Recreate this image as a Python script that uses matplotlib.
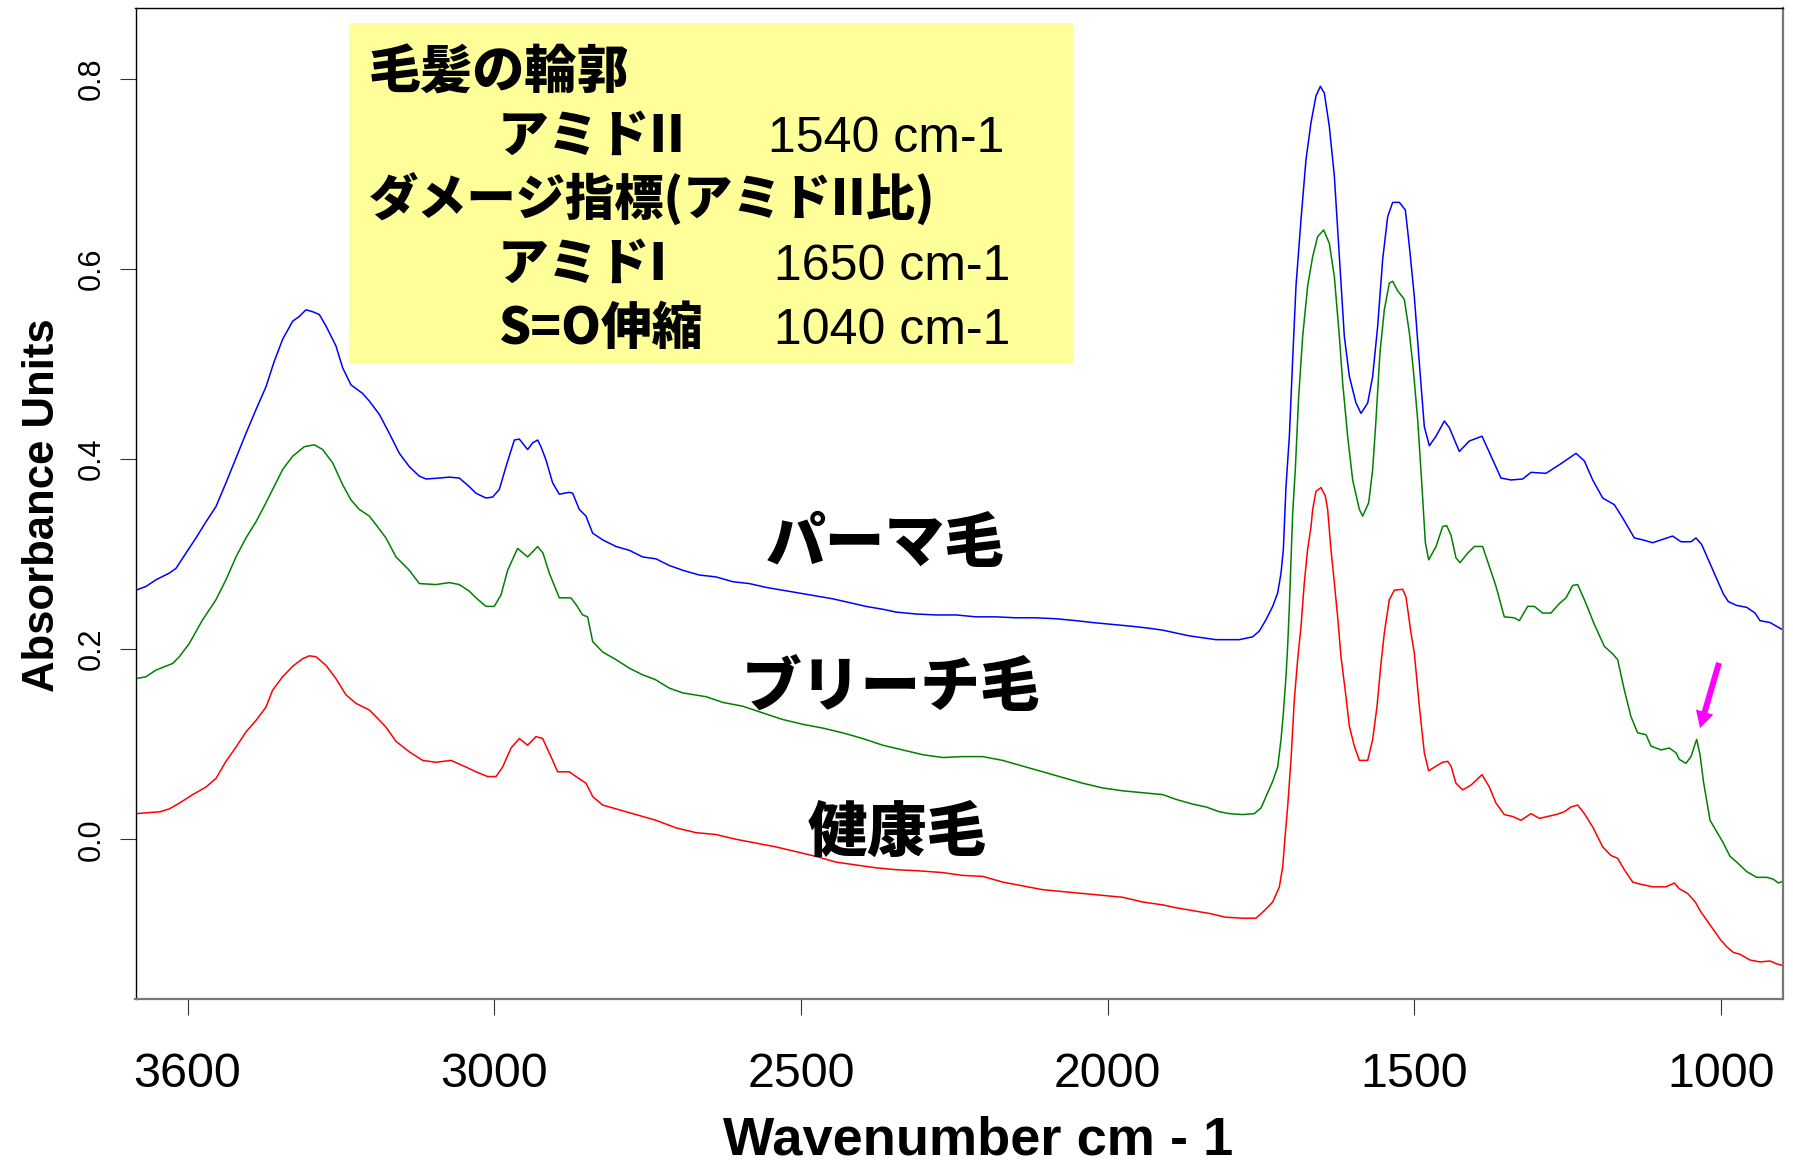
import numpy as np
import matplotlib
matplotlib.use('Agg')
import matplotlib.pyplot as plt
from matplotlib import font_manager as fm
from matplotlib.patches import Rectangle


def font_ok(name):
    try:
        fm.findfont(fm.FontProperties(family=name), fallback_to_default=False)
        return True
    except ValueError:
        return False


NARROW = 'Liberation Sans Narrow' if font_ok('Liberation Sans Narrow') else 'Liberation Sans'
ns = 1.0 if NARROW == 'Liberation Sans Narrow' else 0.85
JP = ['Noto Sans CJK JP', 'DejaVu Sans']

plt.rcParams['font.family'] = ['Liberation Sans', 'Noto Sans CJK JP', 'DejaVu Sans']

# パーマ毛 (blue)
perm_wn = [3584.0, 3567.7, 3551.4, 3529.7, 3518.8, 3502.5, 3486.2, 3469.9, 3453.6, 3437.3,
           3421.0, 3404.7, 3388.4, 3372.1, 3358.5, 3344.9, 3328.6, 3317.7, 3306.9, 3296.0,
           3285.1, 3274.3, 3258.0, 3247.1, 3233.5, 3214.5, 3203.6, 3187.3, 3171.0, 3154.7,
           3138.4, 3122.1, 3111.2, 3089.5, 3073.2, 3056.9, 3040.6, 3029.7, 3013.4, 3002.6,
           2991.7, 2980.8, 2967.2, 2959.1, 2945.5, 2937.4, 2929.2, 2923.8, 2915.6, 2904.8,
           2893.9, 2877.6, 2872.1, 2861.3, 2850.4, 2839.5, 2823.2, 2801.5, 2779.7, 2758.0,
           2736.2, 2714.5, 2692.7, 2665.6, 2638.4, 2611.2, 2584.1, 2556.9, 2529.7, 2502.5,
           2475.4, 2448.2, 2421.0, 2393.9, 2366.7, 2344.9, 2312.3, 2279.8, 2247.2, 2214.5,
           2181.9, 2149.3, 2116.7, 2084.1, 2051.5, 2024.3, 1991.8, 1959.2, 1932.0, 1910.2,
           1888.5, 1866.8, 1845.0, 1823.3, 1785.3, 1763.5, 1752.7, 1741.8, 1730.9, 1722.8,
           1717.3, 1713.5, 1709.2, 1703.7, 1698.3, 1692.9, 1684.7, 1676.6, 1668.4, 1660.3,
           1653.2, 1646.7, 1638.6, 1630.4, 1622.2, 1614.1, 1605.9, 1595.1, 1586.9, 1576.0,
           1567.9, 1559.7, 1551.6, 1543.4, 1535.3, 1524.4, 1514.6, 1508.1, 1500.0, 1491.8,
           1483.7, 1475.5, 1464.6, 1451.1, 1442.9, 1426.6, 1410.3, 1389.6, 1374.9, 1358.7,
           1342.4, 1323.3, 1309.8, 1285.3, 1263.6, 1236.4, 1222.8, 1209.2, 1192.9, 1173.9,
           1160.3, 1141.3, 1127.7, 1111.4, 1078.8, 1065.2, 1048.9, 1040.8, 1031.5, 1017.9,
           1007.0, 996.1, 988.0, 974.4, 958.1, 944.5, 936.4, 920.1, 909.2, 898.3]
perm_abs = [0.262, 0.266, 0.273, 0.280, 0.285, 0.301, 0.317, 0.334, 0.350, 0.375,
            0.401, 0.427, 0.452, 0.476, 0.503, 0.526, 0.545, 0.550, 0.557, 0.555,
            0.552, 0.540, 0.519, 0.496, 0.478, 0.469, 0.461, 0.447, 0.427, 0.406,
            0.392, 0.382, 0.379, 0.380, 0.381, 0.380, 0.371, 0.364, 0.359, 0.360,
            0.368, 0.392, 0.420, 0.421, 0.410, 0.417, 0.420, 0.413, 0.399, 0.375,
            0.363, 0.365, 0.364, 0.347, 0.340, 0.322, 0.315, 0.308, 0.304, 0.297,
            0.295, 0.288, 0.283, 0.278, 0.276, 0.271, 0.269, 0.265, 0.262, 0.259,
            0.256, 0.253, 0.249, 0.245, 0.242, 0.239, 0.237, 0.236, 0.236, 0.234,
            0.234, 0.233, 0.233, 0.232, 0.230, 0.228, 0.226, 0.224, 0.222, 0.220,
            0.217, 0.214, 0.212, 0.210, 0.210, 0.213, 0.219, 0.231, 0.245, 0.259,
            0.280, 0.305, 0.371, 0.424, 0.505, 0.582, 0.652, 0.715, 0.754, 0.782,
            0.792, 0.785, 0.750, 0.698, 0.613, 0.529, 0.487, 0.459, 0.448, 0.459,
            0.487, 0.540, 0.610, 0.655, 0.670, 0.670, 0.662, 0.624, 0.571, 0.501,
            0.434, 0.414, 0.424, 0.440, 0.433, 0.408, 0.419, 0.424, 0.403, 0.380,
            0.378, 0.379, 0.386, 0.385, 0.394, 0.406, 0.398, 0.378, 0.359, 0.352,
            0.338, 0.317, 0.315, 0.312, 0.319, 0.313, 0.313, 0.317, 0.310, 0.290,
            0.274, 0.258, 0.250, 0.246, 0.244, 0.238, 0.230, 0.228, 0.224, 0.220]

# ブリーチ毛 (green)
bleach_wn = [3584.0, 3567.7, 3551.4, 3524.2, 3513.4, 3497.1, 3475.3, 3453.6, 3437.3, 3421.0,
             3404.7, 3388.4, 3372.1, 3361.2, 3344.9, 3328.6, 3309.6, 3293.3, 3279.7, 3263.4,
             3247.1, 3233.5, 3219.9, 3203.6, 3192.8, 3176.5, 3160.1, 3138.4, 3122.1, 3094.9,
             3073.2, 3056.9, 3040.6, 3029.7, 3013.4, 2999.9, 2989.0, 2978.1, 2961.9, 2945.5,
             2929.2, 2920.5, 2910.2, 2893.9, 2874.9, 2866.7, 2855.9, 2847.7, 2839.5, 2823.2,
             2801.5, 2779.7, 2758.0, 2737.4, 2714.5, 2692.7, 2654.7, 2627.4, 2594.9, 2562.3,
             2529.7, 2497.1, 2464.5, 2431.9, 2399.3, 2366.7, 2334.1, 2301.5, 2268.9, 2236.3,
             2203.7, 2171.1, 2138.5, 2105.8, 2073.3, 2040.6, 2008.0, 1975.4, 1942.8, 1910.2,
             1888.5, 1861.3, 1839.6, 1817.9, 1801.6, 1779.8, 1760.8, 1749.9, 1741.8, 1730.9,
             1722.8, 1717.3, 1713.5, 1709.2, 1706.5, 1703.7, 1701.0, 1698.3, 1694.0, 1688.5,
             1682.0, 1673.9, 1665.7, 1657.6, 1647.8, 1638.6, 1630.4, 1622.2, 1616.8, 1608.7,
             1600.5, 1589.6, 1584.2, 1574.4, 1567.9, 1562.5, 1556.0, 1548.9, 1540.8, 1535.3,
             1527.1, 1516.3, 1508.1, 1501.6, 1494.5, 1487.5, 1482.0, 1476.6, 1464.6, 1453.8,
             1447.3, 1440.2, 1432.1, 1425.5, 1413.0, 1402.1, 1388.6, 1377.7, 1366.8, 1353.3,
             1336.9, 1328.8, 1315.2, 1304.3, 1290.8, 1277.2, 1263.6, 1252.7, 1241.9, 1233.7,
             1220.1, 1206.5, 1190.2, 1176.6, 1168.5, 1157.6, 1146.8, 1135.9, 1122.3, 1114.1,
             1097.8, 1084.3, 1073.4, 1068.0, 1057.1, 1048.9, 1041.9, 1039.6, 1034.2, 1028.7,
             1017.9, 1007.0, 996.1, 985.3, 974.4, 958.1, 941.9, 925.5, 914.6, 906.5, 898.3]
bleach_abs = [0.169, 0.171, 0.178, 0.185, 0.192, 0.206, 0.231, 0.252, 0.273, 0.297,
              0.317, 0.334, 0.354, 0.368, 0.389, 0.403, 0.413, 0.415, 0.410, 0.396,
              0.373, 0.357, 0.347, 0.340, 0.331, 0.317, 0.297, 0.283, 0.269, 0.268,
              0.270, 0.268, 0.261, 0.254, 0.245, 0.245, 0.257, 0.283, 0.306, 0.297,
              0.308, 0.301, 0.280, 0.254, 0.254, 0.247, 0.236, 0.234, 0.208, 0.197,
              0.189, 0.180, 0.173, 0.168, 0.159, 0.154, 0.150, 0.144, 0.140, 0.133,
              0.126, 0.121, 0.117, 0.112, 0.106, 0.099, 0.094, 0.089, 0.086, 0.087,
              0.087, 0.083, 0.077, 0.071, 0.065, 0.059, 0.054, 0.051, 0.049, 0.047,
              0.042, 0.037, 0.034, 0.029, 0.027, 0.026, 0.027, 0.033, 0.045, 0.061,
              0.076, 0.105, 0.133, 0.171, 0.203, 0.245, 0.294, 0.343, 0.389, 0.466,
              0.529, 0.582, 0.613, 0.634, 0.641, 0.627, 0.592, 0.529, 0.480, 0.424,
              0.378, 0.347, 0.340, 0.354, 0.389, 0.441, 0.512, 0.557, 0.585, 0.587,
              0.577, 0.568, 0.533, 0.494, 0.441, 0.371, 0.312, 0.294, 0.308, 0.329,
              0.330, 0.320, 0.296, 0.291, 0.301, 0.308, 0.308, 0.287, 0.266, 0.234,
              0.233, 0.230, 0.245, 0.245, 0.238, 0.238, 0.248, 0.254, 0.267, 0.268,
              0.248, 0.226, 0.203, 0.195, 0.189, 0.157, 0.129, 0.112, 0.110, 0.098,
              0.094, 0.096, 0.091, 0.084, 0.080, 0.087, 0.101, 0.105, 0.089, 0.061,
              0.020, 0.008, -0.004, -0.018, -0.024, -0.034, -0.040, -0.040, -0.042, -0.046, -0.044]

# 健康毛 (red)
healthy_wn = [3584.0, 3544.7, 3529.7, 3513.4, 3491.6, 3469.9, 3453.6, 3437.3, 3421.0, 3404.7,
              3388.4, 3372.1, 3361.2, 3344.9, 3328.6, 3312.3, 3301.4, 3290.6, 3274.3, 3258.0,
              3241.7, 3225.4, 3203.6, 3192.8, 3176.5, 3160.1, 3138.4, 3116.7, 3094.9, 3070.5,
              3046.0, 3029.7, 3010.7, 2997.1, 2986.3, 2972.6, 2959.1, 2945.5, 2931.9, 2921.1,
              2907.5, 2896.6, 2877.6, 2866.7, 2850.4, 2839.5, 2823.2, 2801.5, 2736.2, 2703.6,
              2671.0, 2638.4, 2605.8, 2573.2, 2540.6, 2508.0, 2475.4, 2442.8, 2410.2, 2377.6,
              2345.0, 2312.3, 2268.9, 2236.3, 2203.7, 2171.1, 2138.5, 2105.8, 2073.3, 2040.6,
              2008.0, 1975.4, 1942.8, 1910.2, 1888.5, 1861.3, 1834.2, 1807.0, 1779.8, 1758.1,
              1744.5, 1730.9, 1720.0, 1714.6, 1710.3, 1706.5, 1701.0, 1695.6, 1690.2, 1684.7,
              1679.3, 1673.9, 1668.4, 1665.7, 1660.3, 1652.1, 1645.0, 1641.3, 1635.9, 1630.4,
              1625.0, 1619.5, 1611.4, 1605.9, 1597.8, 1589.6, 1576.0, 1567.9, 1560.8, 1554.3,
              1548.9, 1540.8, 1532.6, 1519.0, 1513.6, 1505.4, 1500.0, 1491.8, 1483.7, 1476.6,
              1464.6, 1453.8, 1445.6, 1440.2, 1432.1, 1421.2, 1407.6, 1389.6, 1377.7, 1366.8,
              1353.3, 1339.7, 1326.1, 1309.8, 1296.1, 1269.0, 1255.4, 1244.6, 1233.7, 1222.8,
              1209.2, 1192.9, 1179.4, 1168.5, 1157.6, 1144.0, 1133.1, 1111.4, 1089.7, 1076.1,
              1068.0, 1054.4, 1041.9, 1034.2, 1023.3, 1012.4, 1001.6, 990.7, 979.8, 969.0,
              952.7, 936.4, 920.1, 909.2, 898.3]
healthy_abs = [0.027, 0.029, 0.032, 0.038, 0.047, 0.055, 0.064, 0.082, 0.097, 0.113,
               0.125, 0.139, 0.157, 0.171, 0.182, 0.190, 0.193, 0.192, 0.183, 0.169,
               0.152, 0.143, 0.136, 0.129, 0.118, 0.103, 0.092, 0.083, 0.081, 0.083,
               0.076, 0.071, 0.066, 0.066, 0.076, 0.096, 0.106, 0.099, 0.108, 0.106,
               0.087, 0.071, 0.071, 0.066, 0.059, 0.045, 0.036, 0.032, 0.020, 0.012,
               0.007, 0.005, 0.000, -0.004, -0.008, -0.013, -0.018, -0.024, -0.027, -0.030,
               -0.032, -0.033, -0.035, -0.038, -0.039, -0.045, -0.049, -0.053, -0.055, -0.057,
               -0.059, -0.061, -0.066, -0.069, -0.072, -0.075, -0.078, -0.082, -0.083, -0.083,
               -0.075, -0.066, -0.050, -0.029, 0.006, 0.034, 0.084, 0.147, 0.189, 0.224,
               0.270, 0.305, 0.329, 0.347, 0.366, 0.370, 0.361, 0.347, 0.305, 0.270,
               0.234, 0.192, 0.150, 0.119, 0.098, 0.083, 0.083, 0.105, 0.140, 0.185,
               0.217, 0.252, 0.262, 0.263, 0.255, 0.217, 0.196, 0.140, 0.091, 0.072,
               0.077, 0.081, 0.082, 0.077, 0.059, 0.052, 0.057, 0.068, 0.055, 0.038,
               0.026, 0.024, 0.020, 0.027, 0.022, 0.026, 0.029, 0.034, 0.036, 0.027,
               0.013, -0.008, -0.017, -0.020, -0.032, -0.045, -0.047, -0.050, -0.050, -0.046,
               -0.052, -0.057, -0.066, -0.075, -0.085, -0.095, -0.105, -0.113, -0.119, -0.121,
               -0.127, -0.129, -0.128, -0.131, -0.133]

x_ticks = [3500, 3000, 2500, 2000, 1500, 1000]
x_tick_labels = ['3600', '3000', '2500', '2000', '1500', '1000']
y_ticks = [0.0, 0.2, 0.4, 0.6, 0.8]
y_tick_labels = ['0.0', '0.2', '0.4', '0.6', '0.8']

box_heads = ['毛髪の輪郭', 'ダメージ指標(アミドII比)']
box_names = ['アミドII', 'アミドI', 'S=O伸縮']
box_values = ['1540 cm-1', '1650 cm-1', '1040 cm-1']

fig = plt.figure(figsize=(17.93, 11.63), dpi=100)
ax = fig.add_axes([135.5 / 1793, 1 - 999 / 1163, 1647.1 / 1793, 991.5 / 1163])

ax.plot(perm_wn, perm_abs, color='#0000ff', lw=1.1)
ax.plot(bleach_wn, bleach_abs, color='#008000', lw=1.1)
ax.plot(healthy_wn, healthy_abs, color='#ff0000', lw=1.1)

ax.set_xlim(3584.8, 899.6)
ax.set_ylim(-0.168, 0.875)

ax.set_xticks(x_ticks)
ax.set_xticklabels(x_tick_labels, fontsize=41 * ns, family=NARROW)
ax.set_yticks(y_ticks)
ax.set_yticklabels(y_tick_labels, fontsize=26 * ns, family=NARROW, rotation=90, va='center')
ax.tick_params(axis='x', length=11.5, width=0.8, color='#333333', pad=27)
ax.tick_params(axis='y', length=11.5, width=0.8, color='#333333', pad=9)

for side in ['top', 'left']:
    ax.spines[side].set_linewidth(1.0)
for side in ['bottom', 'right']:
    ax.spines[side].set_linewidth(1.6)
    ax.spines[side].set_color('#777777')

ax.set_xlabel('Wavenumber cm - 1', fontsize=46 * ns, family=NARROW, fontweight='bold')
ax.xaxis.label.set_va('baseline')
ax.xaxis.set_label_coords(0.5115, -0.1565)
ax.set_ylabel('Absorbance Units', fontsize=37 * ns, family=NARROW, fontweight='bold')
ax.yaxis.label.set_va('baseline')
ax.yaxis.set_label_coords(-0.0495, 0.498)

# 説明ボックス
ax.add_patch(Rectangle((0.1296, 0.6409), 0.4396, 0.3435, transform=ax.transAxes,
                       facecolor='#ffff99', edgecolor='none', zorder=3))
ax.text(0.1415, 0.9178, box_heads[0], transform=ax.transAxes, family=JP,
        fontsize=37.5, fontweight='heavy', va='baseline', zorder=4)
ax.text(0.1415, 0.7897, box_heads[1], transform=ax.transAxes, family=JP,
        fontsize=35.5, fontweight='heavy', va='baseline', zorder=4)
for name, value, y, xv in zip(box_names, box_values, [0.8543, 0.7252, 0.6606],
                              [0.3840, 0.3876, 0.3876]):
    ax.text(0.2201, y, name, transform=ax.transAxes, family=JP,
            fontsize=36.5, fontweight='heavy', va='baseline', zorder=4)
    ax.text(xv, y, value, transform=ax.transAxes, family='Liberation Sans',
            fontsize=36, va='baseline', zorder=4)

# 各スペクトルのラベル
ax.text(2362.9, 0.2919, 'パーマ毛', family=JP, fontsize=43, fontweight='heavy',
        ha='center', va='baseline')
ax.text(2353.1, 0.1404, 'ブリーチ毛', family=JP, fontsize=43, fontweight='heavy',
        ha='center', va='baseline')
ax.text(2343.3, -0.0123, '健康毛', family=JP, fontsize=43, fontweight='heavy',
        ha='center', va='baseline')

# S=O ピークを指す矢印
ax.annotate('', xy=(1034.3, 0.117), xytext=(1003.3, 0.1856),
            arrowprops=dict(facecolor='#ff00ff', edgecolor='none', width=4.3,
                            headwidth=13, headlength=12, shrink=0))

fig.savefig('out.png', dpi=100)
